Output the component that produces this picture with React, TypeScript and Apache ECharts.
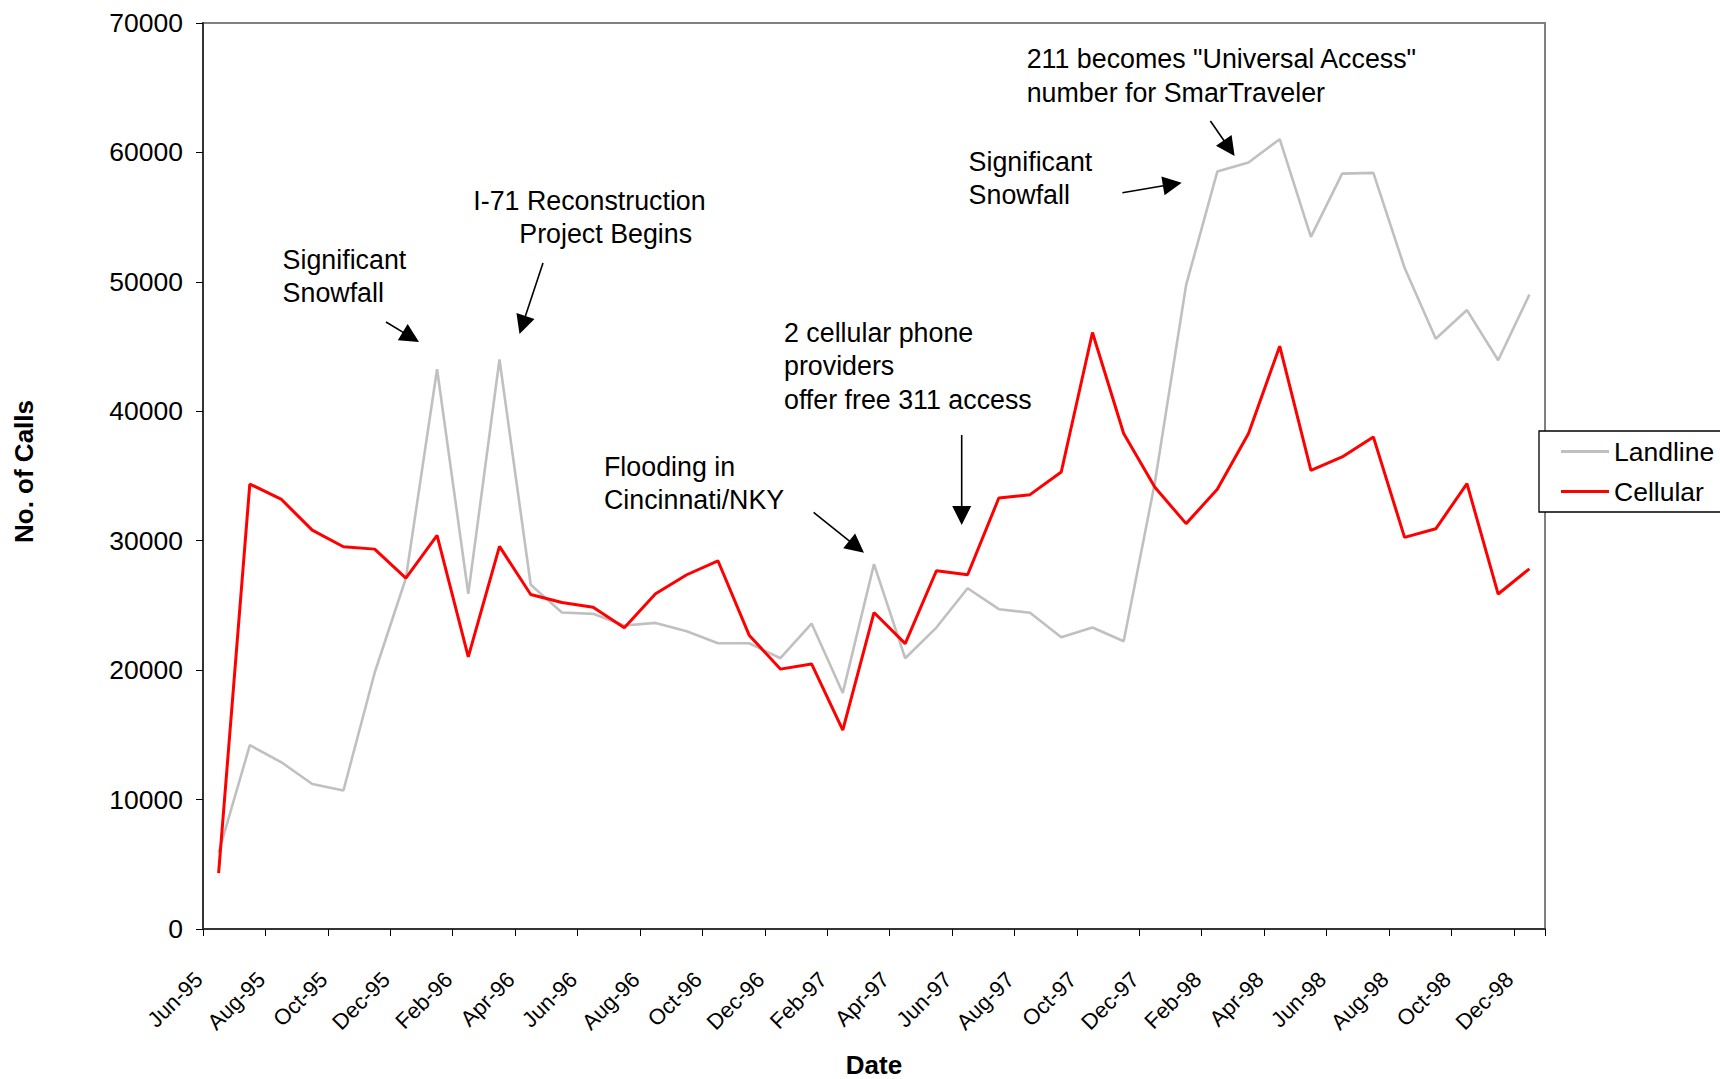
import React, { useEffect, useRef } from "react";
import * as echarts from "echarts";

const months = [
  "Jun-95", "Jul-95", "Aug-95", "Sep-95", "Oct-95", "Nov-95", "Dec-95",
  "Jan-96", "Feb-96", "Mar-96", "Apr-96", "May-96", "Jun-96", "Jul-96", "Aug-96", "Sep-96", "Oct-96", "Nov-96", "Dec-96",
  "Jan-97", "Feb-97", "Mar-97", "Apr-97", "May-97", "Jun-97", "Jul-97", "Aug-97", "Sep-97", "Oct-97", "Nov-97", "Dec-97",
  "Jan-98", "Feb-98", "Mar-98", "Apr-98", "May-98", "Jun-98", "Jul-98", "Aug-98", "Sep-98", "Oct-98", "Nov-98", "Dec-98",
];

const landline = [
  5900, 14200, 12900, 11200, 10700, 19800, 27100,
  43250, 25900, 44000, 26600, 24450, 24350, 23450, 23650, 23000, 22080, 22080, 20920,
  23600, 18240, 28190, 20920, 23290, 26330, 24710, 24430, 22540, 23290, 22230, 34500,
  49750, 58520, 59220, 61020, 53480, 58360, 58420, 51090, 45600, 47820, 43940, 49010,
];

const cellular = [
  4310, 34380, 33220, 30820, 29530, 29350, 27110,
  30410, 21020, 29560, 25840, 25230, 24860, 23270, 25900, 27370, 28450, 22700, 20080,
  20480, 15370, 24450, 22050, 27680, 27370, 33300, 33560, 35310, 46090, 38280, 34130,
  31320, 33970, 38280, 45030, 35440, 36470, 38020, 30260, 30920, 34410, 25880, 27830,
];

const yTicks = { min: 0, max: 70000, interval: 10000 };

const FONT = '"Liberation Sans", Arial, Helvetica, sans-serif';
const ANN_SIZE = 26.8;

function arrow(x1: number, y1: number, x2: number, y2: number, headLen = 19, headW = 19) {
  const dx = x2 - x1, dy = y2 - y1;
  const L = Math.hypot(dx, dy);
  const ux = dx / L, uy = dy / L;
  const bx = x2 - ux * headLen, by = y2 - uy * headLen;
  const px = -uy, py = ux;
  return [
    { type: "line", silent: true, shape: { x1, y1, x2: bx + ux * 2, y2: by + uy * 2 }, style: { stroke: "#000", lineWidth: 1.6 } },
    {
      type: "polygon", silent: true,
      shape: { points: [[x2, y2], [bx + (px * headW) / 2, by + (py * headW) / 2], [bx - (px * headW) / 2, by - (py * headW) / 2]] },
      style: { fill: "#000" },
    },
  ];
}

function label(text: string, x: number, yCenterFirst: number, lh = 33.4) {
  return {
    type: "text", silent: true, x, y: yCenterFirst - lh / 2,
    style: {
      text, fill: "#000", fontSize: ANN_SIZE, fontFamily: FONT, lineHeight: lh,
      align: "left", verticalAlign: "top", textAlign: "left", textVerticalAlign: "top",
    },
  };
}

export default function App() {
  const ref = useRef<HTMLDivElement>(null);
  useEffect(() => {
    if (!ref.current) return;
    const chart = echarts.init(ref.current, undefined, { renderer: "svg" });
    const graphics: any[] = [
      label("Significant\nSnowfall", 282.6, 260),
      label("I-71 Reconstruction", 473.3, 201),
      label("Project Begins", 519.3, 234),
      label("Flooding in\nCincinnati/NKY", 604, 466.7),
      label("2 cellular phone\nproviders\noffer free 311 access", 784, 333),
      label("Significant\nSnowfall", 968.6, 161.7),
      label('211 becomes "Universal Access"\nnumber for SmarTraveler', 1026.7, 59.3),
      ...arrow(386, 322, 419, 342),
      ...arrow(543, 263, 519.5, 334),
      ...arrow(813.6, 512.3, 864, 552.7),
      ...arrow(961.7, 435, 961.7, 525),
      ...arrow(1122.4, 192.7, 1181.7, 182.7),
      ...arrow(1210.4, 121, 1234.6, 156),
      {
        type: "text", silent: true, x: 874, y: 1065,
        style: {
          text: "Date", fill: "#000", fontSize: 26, fontWeight: "bold", fontFamily: FONT, lineHeight: 22,
          align: "center", verticalAlign: "middle", textAlign: "center", textVerticalAlign: "middle",
        },
      },
      {
        type: "text", silent: true, x: 24, y: 471.5, rotation: Math.PI / 2,
        style: {
          text: "No. of Calls", fill: "#000", fontSize: 26, fontWeight: "bold", fontFamily: FONT,
          align: "center", verticalAlign: "middle", textAlign: "center", textVerticalAlign: "middle",
        },
      },
    ];
    chart.setOption({
      animation: false,
      backgroundColor: "#fff",
      textStyle: { fontFamily: FONT },
      grid: {
        left: 203, top: 23, width: 1342, height: 906,
        show: true, borderColor: "#808080", borderWidth: 2, backgroundColor: "transparent",
        containLabel: false, outerBoundsMode: "none",
      },
      legend: {
        orient: "vertical", left: 1539, top: 431,
        itemWidth: 48, itemHeight: 3, itemGap: 13, icon: "rect",
        padding: [7, 40, 7, 22],
        borderColor: "#000", borderWidth: 1.3, backgroundColor: "#fff",
        textStyle: { fontSize: 26.5, color: "#000", fontFamily: FONT },
        data: ["Landline", "Cellular"],
      },
      xAxis: {
        type: "category",
        data: months,
        boundaryGap: true,
        axisLine: { show: true, lineStyle: { color: "#333", width: 2 } },
        axisTick: { show: true, interval: 1, length: 7, lineStyle: { color: "#000", width: 1 } },
        axisLabel: {
          interval: 1, rotate: 45, fontSize: 22, color: "#000", fontFamily: FONT,
          margin: 27, padding: [0, 28, 0, 0],
        },
        splitLine: { show: false },
      },
      yAxis: {
        type: "value",
        min: yTicks.min, max: yTicks.max, interval: yTicks.interval,
        axisLine: { show: true, lineStyle: { color: "#333", width: 2 } },
        axisTick: { show: true, length: 7, lineStyle: { color: "#000", width: 1 } },
        axisLabel: {
          fontSize: 26.5, color: "#000", margin: 20, fontFamily: FONT,
          formatter: (v: number) => String(v),
        },
        splitLine: { show: false },
      },
      series: [
        {
          name: "Landline", type: "line", data: landline, showSymbol: false, symbol: "none",
          color: "#C0C0C0", itemStyle: { color: "#C0C0C0" },
          lineStyle: { color: "#C0C0C0", width: 2.6 }, z: 2,
        },
        {
          name: "Cellular", type: "line", data: cellular, showSymbol: false, symbol: "none",
          color: "#FF0000", itemStyle: { color: "#FF0000" },
          lineStyle: { color: "#FF0000", width: 3 }, z: 3,
        },
      ],
      graphic: graphics,
    });
    return () => chart.dispose();
  }, []);
  return (
    <div
      ref={ref}
      style={{ position: "fixed", left: 0, top: 0, width: 1720, height: 1079, background: "#fff" }}
    />
  );
}
